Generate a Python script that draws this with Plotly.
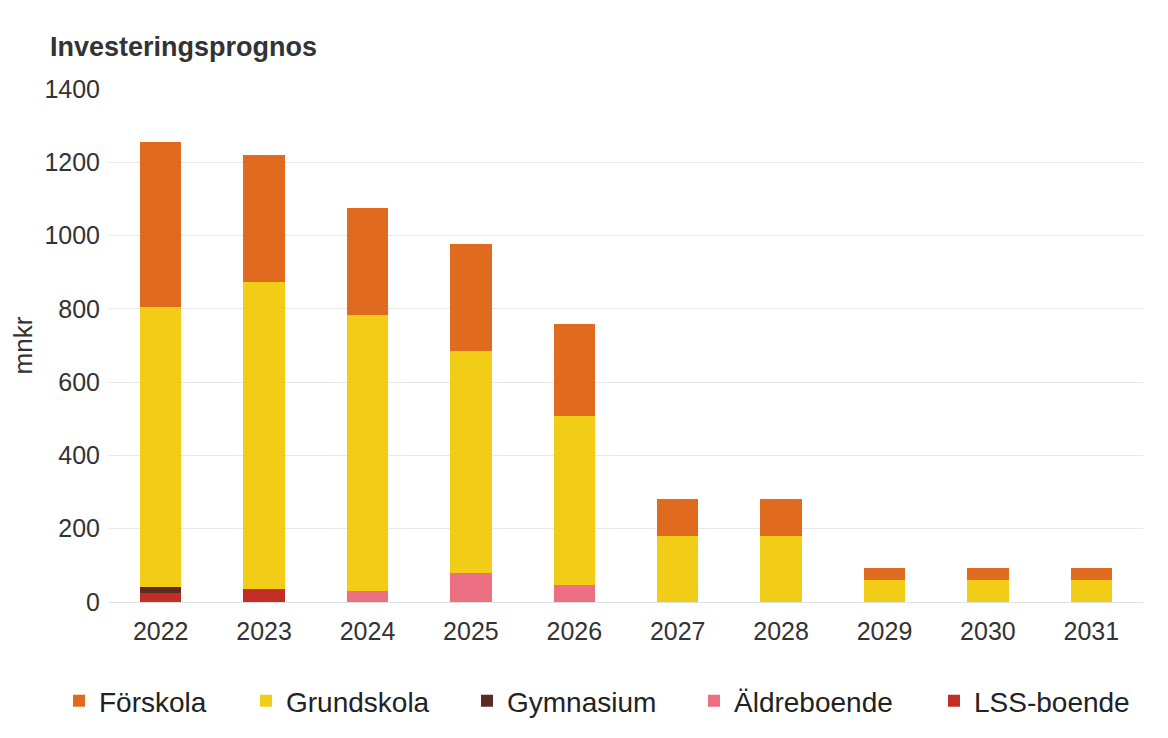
import plotly.graph_objects as go

years = ["2022", "2023", "2024", "2025", "2026", "2027", "2028", "2029", "2030", "2031"]
forskola = [451, 347, 291, 291, 250, 101, 101, 32, 32, 32]
grundskola = [765, 838, 753, 607, 462, 179, 179, 60, 60, 60]
gymnasium = [15, 0, 0, 0, 0, 0, 0, 0, 0, 0]
aldreboende = [0, 0, 30, 78, 46, 0, 0, 0, 0, 0]
lss_boende = [25, 35, 0, 0, 0, 0, 0, 0, 0, 0]

# page is offset by the 8px body margin; work in figure coordinates
OFF = 8
W, H = 1160, 730
L, T = 109 - OFF, 89 - OFF
PLOT_RIGHT = 1143 - OFF
PLOT_BOTTOM = 607 - OFF
R = W - PLOT_RIGHT
B = H - PLOT_BOTTOM
pw = W - L - R
ph = H - T - B

series = [
    ("LSS-boende", lss_boende, "#C22D26", "legend5", 973),
    ("Äldreboende", aldreboende, "#EC6F82", "legend4", 733),
    ("Gymnasium", gymnasium, "#5B2A22", "legend3", 506),
    ("Grundskola", grundskola, "#F2CD18", "legend2", 285),
    ("Förskola", forskola, "#E06B1E", "legend", 98),
]

FONT = "Liberation Sans, Arial, sans-serif"

fig = go.Figure()
legend_layout = {}
for name, vals, color, lg, text_left in series:
    fig.add_trace(go.Bar(
        x=years, y=vals, name=name, marker=dict(color=color, line=dict(width=0)),
        legend=lg, showlegend=True,
    ))
    lx = text_left - 39 - OFF
    legend_layout[lg] = dict(
        x=(lx - L) / pw, xanchor="left",
        y=(PLOT_BOTTOM - (707 - OFF)) / ph, yanchor="middle",
        orientation="h", bgcolor="rgba(0,0,0,0)",
        font=dict(family=FONT, size=28, color="#222222"),
        itemwidth=30,
    )

fig.update_layout(
    showlegend=True,
    barmode="stack",
    bargap=0.6,
    width=W, height=H,
    margin=dict(l=L, r=R, t=T, b=B),
    paper_bgcolor="white",
    plot_bgcolor="white",
    font=dict(family=FONT, size=25, color="#333333"),
    title=dict(
        text="<b>Investeringsprognos</b>",
        x=(50 - OFF) / W, xanchor="left", xref="container",
        y=1 - (47 - OFF) / H, yanchor="middle", yref="container",
        font=dict(family=FONT, size=27, color="#333333"),
    ),
    xaxis=dict(
        showgrid=False, showline=False, ticks="", ticklabelstandoff=12,
        tickfont=dict(family=FONT, size=25, color="#333333"),
    ),
    yaxis=dict(
        range=[0, 1400], dtick=200, showgrid=True, gridcolor="#e8e8e8",
        gridwidth=1, zeroline=True, zerolinecolor="#e0e0e0", zerolinewidth=1,
        showline=False, ticks="", ticklabelstandoff=8,
        tickfont=dict(family=FONT, size=25, color="#333333"),
        title=dict(text="mnkr", standoff=4,
                   font=dict(family=FONT, size=26, color="#333333")),
    ),
    **legend_layout,
)

fig.write_html("out.html")
